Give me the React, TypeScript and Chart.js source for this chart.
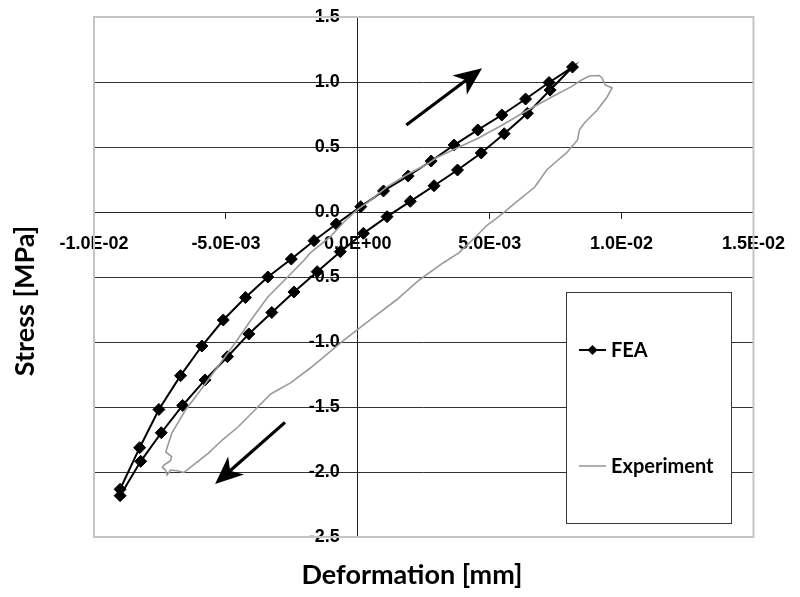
import React, { useEffect, useRef } from 'react';
import { Chart, registerables } from 'chart.js';

Chart.register(...registerables);

// FEA: lower-right branch (bottom -> top), then upper-left branch (top -> bottom)
const feaX = [
  -0.00901, -0.00823, -0.00745, -0.00664, -0.00579, -0.00494, -0.00413, -0.00326, -0.00242, -0.00154,
  -0.000664, 0.000214, 0.00111, 0.00199, 0.00289, 0.00378, 0.00468, 0.00555, 0.00643, 0.00729, 0.00814,
  0.00725, 0.00636, 0.00546, 0.00455, 0.00365, 0.00278, 0.00191, 0.000975, 0.000113, -0.000814,
  -0.00166, -0.00252, -0.00341, -0.00426, -0.0051, -0.00591, -0.00672, -0.00754, -0.00827, -0.00901,
];
const feaY = [
  -2.182, -1.918, -1.698, -1.488, -1.292, -1.113, -0.938, -0.773, -0.615, -0.459,
  -0.305, -0.164, -0.036, 0.082, 0.202, 0.323, 0.454, 0.602, 0.759, 0.938, 1.115,
  0.996, 0.869, 0.746, 0.631, 0.515, 0.392, 0.277, 0.162, 0.041, -0.092,
  -0.221, -0.362, -0.5, -0.658, -0.831, -1.031, -1.259, -1.519, -1.813, -2.133,
];

const expX = [
  -0.0066, -0.00566, -0.00514, -0.00454, -0.00379, -0.0033, -0.00255, -0.0018, -0.000525, 0.000713,
  0.00146, 0.00233, 0.00323, 0.00383, 0.00446, 0.00491, 0.00533, 0.00596, 0.00671, 0.00716,
  0.00746, 0.00791, 0.00833, 0.0084, 0.00859, 0.00908, 0.00945, 0.00964, 0.00938, 0.00926,
  0.00915, 0.00878, 0.00848, 0.0081, 0.00735, 0.00645, 0.00548, 0.00458, 0.0036, 0.00296,
  0.0027, 0.00184, 0.00109, 0.000338, -0.0000375, -0.000525, -0.00105, -0.0018, -0.00203, -0.00266,
  -0.00341, -0.00405, -0.00465, -0.0054, -0.00604, -0.00653, -0.00705, -0.00728, -0.00706, -0.0071,
  -0.00735, -0.00741, -0.00729, -0.00723, -0.0071, -0.00679, -0.0066,
];
const expY = [
  -2.004, -1.854, -1.754, -1.654, -1.5, -1.4, -1.315, -1.2, -0.985, -0.792,
  -0.677, -0.523, -0.392, -0.315, -0.192, -0.1, -0.038, 0.069, 0.192, 0.323,
  0.377, 0.454, 0.554, 0.631, 0.685, 0.785, 0.885, 0.954, 0.977, 1.031,
  1.05, 1.046, 1.015, 0.964, 0.885, 0.785, 0.669, 0.569, 0.477, 0.415,
  0.377, 0.285, 0.192, 0.069, 0.015, -0.077, -0.192, -0.315, -0.369, -0.5,
  -0.654, -0.831, -1.008, -1.215, -1.392, -1.523, -1.7, -1.846, -1.882, -1.913,
  -1.946, -1.964, -1.985, -2.023, -1.985, -1.992, -2.004,
];

const xTicks = [-0.01, -0.005, 0, 0.005, 0.01, 0.015];
const yTicks = [-2.5, -2.0, -1.5, -1.0, -0.5, 0.0, 0.5, 1.0, 1.5];

const seriesLabels = ['FEA', 'Experiment'];
const xTitle = 'Deformation [mm]';
const yTitle = 'Stress [MPa]';

// direction arrows (data coordinates): tail -> tip
const arrowTailX = [0.00184, -0.00276];
const arrowTailY = [0.669, -1.618];
const arrowTipX = [0.00471, -0.00541];
const arrowTipY = [1.105, -2.092];

function sci(v: number): string {
  if (Math.abs(v) < 1e-12) return '0.0E+00';
  const s = v.toExponential(1);
  const [m, e] = s.split('e');
  const sign = e[0] === '-' ? '-' : '+';
  const d = e.replace(/[+-]/, '').padStart(2, '0');
  return m + 'E' + sign + d;
}

const TICK_FONT = { family: '"Liberation Sans", Arial, sans-serif', size: 18, weight: 'bold' as const };
const TITLE_FONT = 'bold 27px Lato, "Open Sans", sans-serif';
const LEGEND_FONT = 'bold 20px Lato, "Open Sans", sans-serif';

const decorPlugin = {
  id: 'decor',
  afterDraw(chart: any) {
    const ctx = chart.ctx as CanvasRenderingContext2D;
    const a = chart.chartArea;
    const xs = chart.scales.x;
    const ys = chart.scales.y;
    ctx.save();
    // plot area border
    ctx.strokeStyle = '#c4c4c4';
    ctx.lineWidth = 2;
    ctx.strokeRect(a.left, a.top, a.right - a.left, a.bottom - a.top);

    // arrows
    ctx.fillStyle = '#000';
    ctx.strokeStyle = '#000';
    for (let i = 0; i < arrowTailX.length; i++) {
      const x0 = xs.getPixelForValue(arrowTailX[i]);
      const y0 = ys.getPixelForValue(arrowTailY[i]);
      const x1 = xs.getPixelForValue(arrowTipX[i]);
      const y1 = ys.getPixelForValue(arrowTipY[i]);
      const ang = Math.atan2(y1 - y0, x1 - x0);
      const ux = Math.cos(ang), uy = Math.sin(ang);
      const px = -uy, py = ux;
      const headLen = 28, notch = 20, half = 12;
      ctx.lineWidth = 3.2;
      ctx.beginPath();
      ctx.moveTo(x0, y0);
      ctx.lineTo(x1 - ux * notch, y1 - uy * notch);
      ctx.stroke();
      ctx.beginPath();
      ctx.moveTo(x1, y1);
      ctx.lineTo(x1 - ux * headLen + px * half, y1 - uy * headLen + py * half);
      ctx.lineTo(x1 - ux * notch, y1 - uy * notch);
      ctx.lineTo(x1 - ux * headLen - px * half, y1 - uy * headLen - py * half);
      ctx.closePath();
      ctx.fill();
    }

    // legend box
    const lx = 566, ly = 292, lw = 165, lh = 231;
    ctx.fillStyle = '#fff';
    ctx.fillRect(lx, ly, lw, lh);
    ctx.strokeStyle = '#3a3a3a';
    ctx.lineWidth = 1;
    ctx.strokeRect(lx + 0.5, ly + 0.5, lw, lh);
    const rows = [350, 466];
    chart.data.datasets.forEach((ds: any, i: number) => {
      const y = rows[i];
      ctx.strokeStyle = ds.borderColor;
      ctx.lineWidth = ds.borderWidth;
      ctx.beginPath();
      ctx.moveTo(579, y);
      ctx.lineTo(606, y);
      ctx.stroke();
      if (ds.pointRadius > 0) {
        ctx.fillStyle = ds.pointBackgroundColor;
        ctx.beginPath();
        ctx.moveTo(592.5, y - 5);
        ctx.lineTo(597.5, y);
        ctx.lineTo(592.5, y + 5);
        ctx.lineTo(587.5, y);
        ctx.closePath();
        ctx.fill();
      }
      ctx.fillStyle = '#000';
      ctx.font = LEGEND_FONT;
      ctx.textAlign = 'left';
      ctx.textBaseline = 'middle';
      ctx.fillText(ds.label, 611, y + 1);
    });

    // axis titles
    ctx.fillStyle = '#000';
    ctx.font = TITLE_FONT;
    ctx.textAlign = 'center';
    ctx.textBaseline = 'middle';
    ctx.fillText(xTitle, 412, 575);
    ctx.translate(25, 301);
    ctx.rotate(-Math.PI / 2);
    ctx.fillText(yTitle, 0, 0);
    ctx.restore();
  },
};

export default function App() {
  const ref = useRef<HTMLCanvasElement | null>(null);
  useEffect(() => {
    if (!ref.current) return;
    const chart = new Chart(ref.current, {
      type: 'scatter',
      data: {
        datasets: [
          {
            label: seriesLabels[0],
            data: feaX.map((x, i) => ({ x, y: feaY[i] })),
            showLine: true,
            borderColor: '#000',
            borderWidth: 2,
            pointStyle: 'rectRot',
            pointRadius: 6,
            pointBackgroundColor: '#000',
            pointBorderColor: '#000',
            pointBorderWidth: 1,
            order: 1,
          },
          {
            label: seriesLabels[1],
            data: expX.map((x, i) => ({ x, y: expY[i] })),
            showLine: true,
            borderColor: '#9a9a9a',
            borderWidth: 1.6,
            pointRadius: 0,
            pointBackgroundColor: '#9a9a9a',
            order: 0,
          },
        ],
      },
      options: {
        responsive: false,
        animation: false,
        layout: { padding: { left: 94, right: 40, top: 17, bottom: 60 } },
        plugins: { legend: { display: false }, tooltip: { enabled: false } },
        scales: {
          x: {
            type: 'linear',
            min: -0.01,
            max: 0.015,
            position: { y: 0 },
            afterBuildTicks: (s: any) => {
              s.ticks = xTicks.map((v) => ({ value: v }));
            },
            ticks: {
              autoSkip: false,
              maxRotation: 0,
              minRotation: 0,
              padding: 15,
              color: '#000',
              font: TICK_FONT,
              callback: (v: any) => sci(Number(v)),
            },
            grid: { drawOnChartArea: false, drawTicks: true, tickLength: 6, color: '#222' },
            border: { display: true, color: '#222', width: 1 },
          },
          y: {
            type: 'linear',
            min: -2.5,
            max: 1.5,
            position: { x: 0 },
            afterBuildTicks: (s: any) => {
              s.ticks = yTicks.map((v) => ({ value: v }));
            },
            ticks: { display: false },
            grid: { drawOnChartArea: true, drawTicks: true, tickLength: 6, color: '#333' },
            border: { display: true, color: '#222', width: 1 },
          },
          yLabels: {
            type: 'linear',
            min: -2.5,
            max: 1.5,
            position: { x: -0.00068 },
            afterBuildTicks: (s: any) => {
              s.ticks = yTicks.map((v) => ({ value: v }));
            },
            ticks: {
              autoSkip: false,
              color: '#000',
              font: TICK_FONT,
              callback: (v: any) => Number(v).toFixed(1),
            },
            grid: { display: false },
            border: { display: false },
          },
        },
      },
      plugins: [decorPlugin],
    } as any);
    return () => chart.destroy();
  }, []);
  return (
    <div style={{ position: 'fixed', left: 0, top: 0, width: 800, height: 597, background: '#fff' }}>
      <canvas ref={ref} width={800} height={597} style={{ display: 'block' }} />
    </div>
  );
}
